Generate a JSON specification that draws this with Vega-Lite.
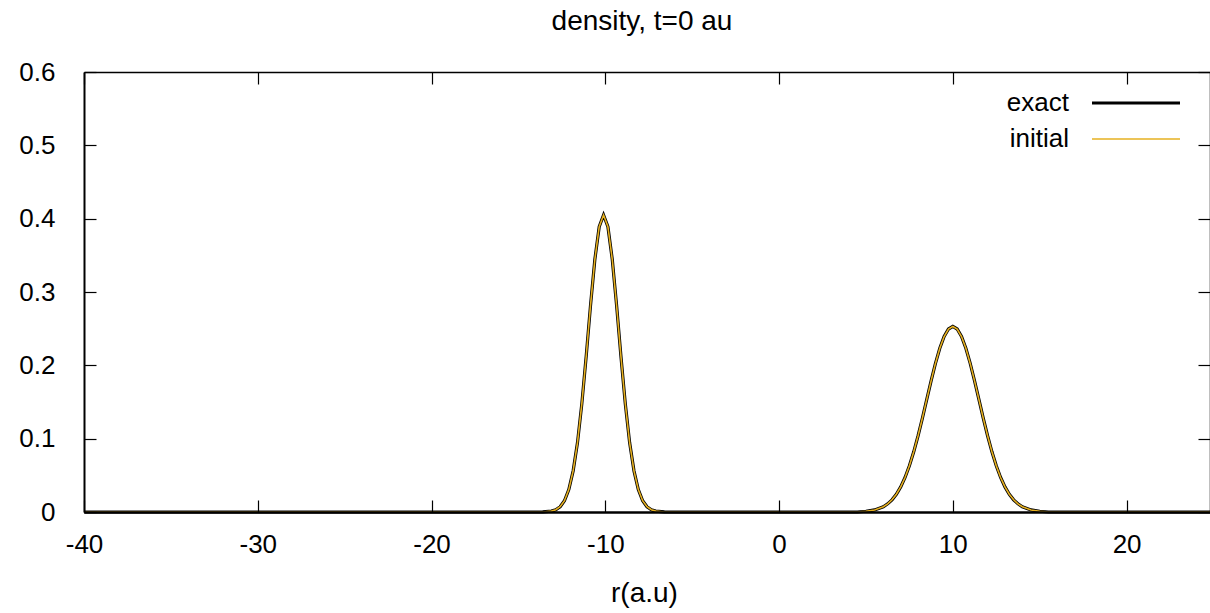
{
  "$schema": "https://vega.github.io/schema/vega-lite/v6.json",
  "width": 1126,
  "height": 440,
  "autosize": {"type": "none"},
  "padding": {"left": 84, "top": 72, "right": 0, "bottom": 101},
  "background": "white",
  "title": {"text": "density, t=0 au", "font": "Liberation Sans", "fontSize": 28, "fontWeight": "normal", "color": "black", "anchor": "middle", "frame": "group", "baseline": "alphabetic", "offset": 1, "dx": -5},
  "config": {"view": {"stroke": null}},
  "data": {"values": [
    {"r": -40, "exact": 0, "initial": 0},
    {"r": -14.1, "exact": 0, "initial": 0},
    {"r": -13.6, "exact": 0.0001, "initial": 0.0001},
    {"r": -13.1, "exact": 0.0012, "initial": 0.0012},
    {"r": -12.85, "exact": 0.0031, "initial": 0.0031},
    {"r": -12.6, "exact": 0.0072, "initial": 0.0072},
    {"r": -12.35, "exact": 0.0154, "initial": 0.0154},
    {"r": -12.1, "exact": 0.0306, "initial": 0.0306},
    {"r": -11.85, "exact": 0.0561, "initial": 0.0561},
    {"r": -11.6, "exact": 0.0947, "initial": 0.0947},
    {"r": -11.35, "exact": 0.1477, "initial": 0.1477},
    {"r": -11.1, "exact": 0.2123, "initial": 0.2123},
    {"r": -10.85, "exact": 0.2817, "initial": 0.2817},
    {"r": -10.6, "exact": 0.3446, "initial": 0.3446},
    {"r": -10.35, "exact": 0.389, "initial": 0.389},
    {"r": -10.1, "exact": 0.405, "initial": 0.405},
    {"r": -9.85, "exact": 0.389, "initial": 0.389},
    {"r": -9.6, "exact": 0.3446, "initial": 0.3446},
    {"r": -9.35, "exact": 0.2817, "initial": 0.2817},
    {"r": -9.1, "exact": 0.2123, "initial": 0.2123},
    {"r": -8.85, "exact": 0.1477, "initial": 0.1477},
    {"r": -8.6, "exact": 0.0947, "initial": 0.0947},
    {"r": -8.35, "exact": 0.0561, "initial": 0.0561},
    {"r": -8.1, "exact": 0.0306, "initial": 0.0306},
    {"r": -7.85, "exact": 0.0154, "initial": 0.0154},
    {"r": -7.6, "exact": 0.0072, "initial": 0.0072},
    {"r": -7.35, "exact": 0.0031, "initial": 0.0031},
    {"r": -7.1, "exact": 0.0012, "initial": 0.0012},
    {"r": -6.6, "exact": 0.0001, "initial": 0.0001},
    {"r": -6.1, "exact": 0, "initial": 0},
    {"r": 4.5, "exact": 0, "initial": 0},
    {"r": 5.0, "exact": 0.001, "initial": 0.001},
    {"r": 5.5, "exact": 0.0028, "initial": 0.0028},
    {"r": 6.0, "exact": 0.0072, "initial": 0.0072},
    {"r": 6.25, "exact": 0.0111, "initial": 0.0111},
    {"r": 6.5, "exact": 0.0166, "initial": 0.0166},
    {"r": 6.75, "exact": 0.0242, "initial": 0.0242},
    {"r": 7.0, "exact": 0.0342, "initial": 0.0342},
    {"r": 7.25, "exact": 0.0471, "initial": 0.0471},
    {"r": 7.5, "exact": 0.0631, "initial": 0.0631},
    {"r": 7.75, "exact": 0.0821, "initial": 0.0821},
    {"r": 8.0, "exact": 0.104, "initial": 0.104},
    {"r": 8.25, "exact": 0.1281, "initial": 0.1281},
    {"r": 8.5, "exact": 0.1535, "initial": 0.1535},
    {"r": 8.75, "exact": 0.1788, "initial": 0.1788},
    {"r": 9.0, "exact": 0.2026, "initial": 0.2026},
    {"r": 9.25, "exact": 0.2233, "initial": 0.2233},
    {"r": 9.5, "exact": 0.2393, "initial": 0.2393},
    {"r": 9.75, "exact": 0.2495, "initial": 0.2495},
    {"r": 10.0, "exact": 0.253, "initial": 0.253},
    {"r": 10.25, "exact": 0.2495, "initial": 0.2495},
    {"r": 10.5, "exact": 0.2393, "initial": 0.2393},
    {"r": 10.75, "exact": 0.2233, "initial": 0.2233},
    {"r": 11.0, "exact": 0.2026, "initial": 0.2026},
    {"r": 11.25, "exact": 0.1788, "initial": 0.1788},
    {"r": 11.5, "exact": 0.1535, "initial": 0.1535},
    {"r": 11.75, "exact": 0.1281, "initial": 0.1281},
    {"r": 12.0, "exact": 0.104, "initial": 0.104},
    {"r": 12.25, "exact": 0.0821, "initial": 0.0821},
    {"r": 12.5, "exact": 0.0631, "initial": 0.0631},
    {"r": 12.75, "exact": 0.0471, "initial": 0.0471},
    {"r": 13.0, "exact": 0.0342, "initial": 0.0342},
    {"r": 13.25, "exact": 0.0242, "initial": 0.0242},
    {"r": 13.5, "exact": 0.0166, "initial": 0.0166},
    {"r": 13.75, "exact": 0.0111, "initial": 0.0111},
    {"r": 14.0, "exact": 0.0072, "initial": 0.0072},
    {"r": 14.5, "exact": 0.0028, "initial": 0.0028},
    {"r": 15.0, "exact": 0.001, "initial": 0.001},
    {"r": 15.5, "exact": 0, "initial": 0},
    {"r": 24.8, "exact": 0, "initial": 0}
  ]},
  "transform": [{"fold": ["exact", "initial"], "as": ["series", "density"]}],
  "layer": [
    {
      "mark": {"type": "line", "interpolate": "linear"},
      "encoding": {
        "x": {"field": "r", "type": "quantitative", "scale": {"domain": [-40, 24.8], "nice": false, "zero": false},
          "axis": {"orient": "bottom", "values": [-40, -30, -20, -10, 0, 10, 20], "labelExpr": "'' + datum.value", "title": "r(a.u)", "titleFont": "Liberation Sans", "titleFontSize": 28, "titleFontWeight": "normal", "titleColor": "black", "titlePadding": 22, "titleX": 560,
            "labelFont": "Liberation Sans", "labelFontSize": 26, "labelColor": "black", "labelPadding": 31, "labelFlush": false, "labelOverlap": false,
            "tickSize": -12, "tickColor": "black", "tickWidth": 1.2, "domainColor": "black", "domainWidth": 2.5, "grid": false, "zindex": 1}},
        "y": {"field": "density", "type": "quantitative", "scale": {"domain": [0, 0.6], "nice": false},
          "axis": {"orient": "left", "values": [0, 0.1, 0.2, 0.3, 0.4, 0.5, 0.6], "format": ".1~f", "title": null,
            "labelFont": "Liberation Sans", "labelFontSize": 26, "labelColor": "black", "labelPadding": 41, "labelFlush": false, "labelOverlap": false,
            "tickSize": -12, "tickColor": "black", "tickWidth": 1.2, "domainColor": "black", "domainWidth": 2, "grid": false, "zindex": 1}},
        "color": {"field": "series", "type": "nominal", "scale": {"domain": ["exact", "initial"], "range": ["#000000", "#e6b020"]},
          "legend": {"orient": "none", "legendX": 1039, "legendY": 18, "title": null, "padding": 0, "offset": 0,
            "symbolType": "M-4,0H4", "symbolSize": 484, "symbolStrokeWidth": 2,
            "labelFont": "Liberation Sans", "labelFontSize": 26, "labelColor": "black", "labelAlign": "right", "labelOffset": -80, "rowPadding": 10,
            "encode": {"symbols": {"update": {"strokeWidth": {"signal": "datum.value === 'exact' ? 3 : 1.5"}}}}}},
        "strokeWidth": {"field": "series", "type": "ordinal", "scale": {"domain": ["exact", "initial"], "range": [3.2, 1.6]}, "legend": null}
      }
    },
    {
      "mark": {"type": "point", "opacity": 0},
      "encoding": {
        "x": {"field": "r", "type": "quantitative",
          "axis": {"orient": "top", "values": [-40, -30, -20, -10, 0, 10, 20], "labels": false, "title": null,
            "tickSize": -12, "tickColor": "black", "tickWidth": 1.2, "domainColor": "black", "domainWidth": 1.5, "grid": false}},
        "y": {"field": "density", "type": "quantitative",
          "axis": {"orient": "right", "values": [0, 0.1, 0.2, 0.3, 0.4, 0.5, 0.6], "labels": false, "title": null,
            "tickSize": -12, "tickColor": "black", "tickWidth": 1.2, "domainColor": "black", "domainWidth": 1.5, "grid": false}}
      }
    }
  ],
  "resolve": {"axis": {"x": "independent", "y": "independent"}}
}
